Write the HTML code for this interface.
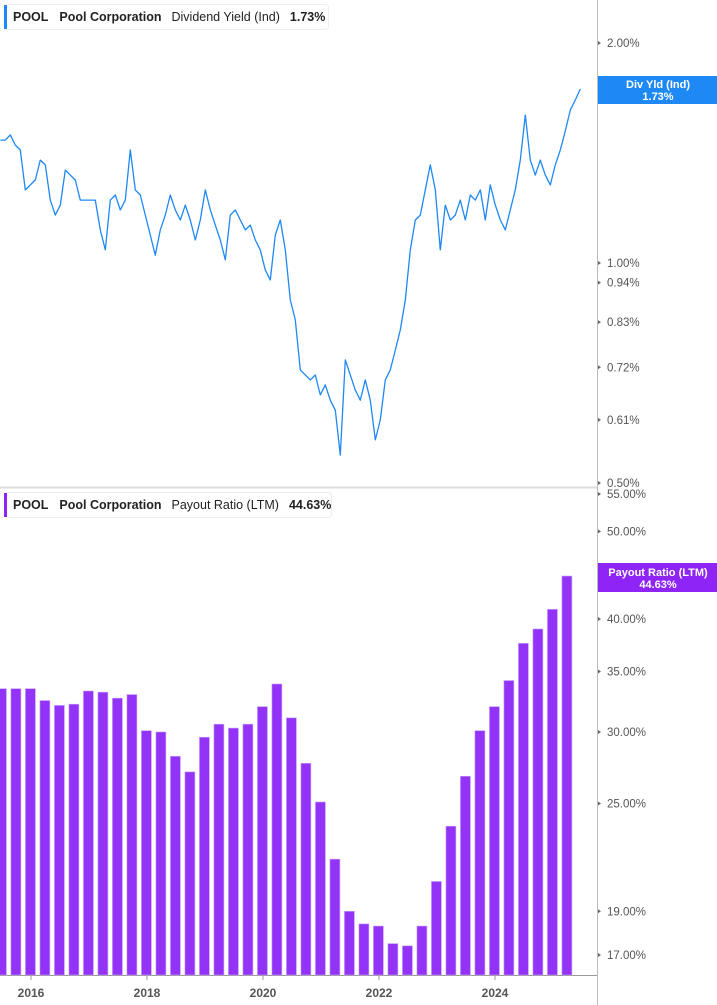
<!DOCTYPE html>
<html><head><meta charset="utf-8">
<style>
body{margin:0;background:#fff;font-family:"Liberation Sans",sans-serif;}
svg{display:block}
</style></head>
<body>
<svg id="chart" width="717" height="1005" xmlns="http://www.w3.org/2000/svg">
  <line x1="597.5" y1="0" x2="597.5" y2="1005" stroke="#bbb" stroke-width="1"/>
  <line x1="0" y1="487.5" x2="597" y2="487.5" stroke="#ddd" stroke-width="2"/>
  <line x1="0" y1="975.5" x2="597" y2="975.5" stroke="#999" stroke-width="1"/>
  <g id="yieldTicks"></g>
  <g id="payTicks"></g>
  <g id="xTicks"></g>
  <g id="bars"></g>
  <path id="yieldLine" fill="none" stroke="#1E88F5" stroke-width="1.3" stroke-linejoin="round"/>

  <g>
    <rect x="4.5" y="4.5" width="324" height="25" rx="3" fill="#fff" stroke="#eee"/>
    <rect x="4" y="5" width="3" height="24" fill="#1E88F5"/>
    <text x="13" y="21" font-size="12.5" fill="#222"><tspan font-weight="bold">POOL</tspan><tspan dx="11" font-weight="bold">Pool Corporation</tspan><tspan dx="10">Dividend Yield (Ind)</tspan><tspan dx="10" font-weight="bold">1.73%</tspan></text>
  </g>
  <g>
    <rect x="4.5" y="492.5" width="327" height="25" rx="3" fill="#fff" stroke="#eee"/>
    <rect x="4" y="493" width="3" height="24" fill="#8E24F5"/>
    <text x="13" y="509" font-size="12.5" fill="#222"><tspan font-weight="bold">POOL</tspan><tspan dx="11" font-weight="bold">Pool Corporation</tspan><tspan dx="10">Payout Ratio (LTM)</tspan><tspan dx="10" font-weight="bold">44.63%</tspan></text>
  </g>
  <g>
    <rect x="598" y="76" width="119" height="28" fill="#1E88F5"/>
    <text x="658" y="88" font-size="11" font-weight="bold" fill="#fff" text-anchor="middle">Div Yld (Ind)</text>
    <text x="658" y="100" font-size="11" font-weight="bold" fill="#fff" text-anchor="middle">1.73%</text>
  </g>
  <g>
    <rect x="598" y="563" width="119" height="29" fill="#8E24F5"/>
    <text x="658" y="576" font-size="11" font-weight="bold" fill="#fff" text-anchor="middle">Payout Ratio (LTM)</text>
    <text x="658" y="588" font-size="11" font-weight="bold" fill="#fff" text-anchor="middle">44.63%</text>
  </g>
</svg>
<script>
const yieldValues=[1.473,1.473,1.497,1.450,1.428,1.259,1.279,1.299,1.383,1.362,1.219,1.163,1.200,1.340,1.319,1.299,1.219,1.219,1.219,1.219,1.110,1.042,1.219,1.239,1.182,1.219,1.428,1.259,1.239,1.163,1.092,1.025,1.110,1.163,1.239,1.182,1.145,1.200,1.145,1.075,1.145,1.259,1.182,1.127,1.075,1.010,1.163,1.182,1.145,1.110,1.127,1.075,1.042,0.978,0.948,1.092,1.145,1.042,0.890,0.836,0.714,0.703,0.692,0.703,0.660,0.681,0.649,0.629,0.546,0.737,0.703,0.670,0.649,0.692,0.649,0.573,0.610,0.692,0.714,0.760,0.810,0.890,1.042,1.145,1.163,1.259,1.362,1.259,1.042,1.200,1.145,1.163,1.219,1.145,1.239,1.219,1.259,1.145,1.279,1.200,1.145,1.110,1.182,1.259,1.383,1.594,1.383,1.319,1.383,1.319,1.279,1.362,1.428,1.516,1.619,1.671,1.730];
const yieldStart=2015.47, yieldStep=5/58;
const payoutValues=[33.5,33.5,33.5,32.5,32.1,32.2,33.3,33.2,32.7,33.0,30.1,30.0,28.2,27.1,29.6,30.6,30.3,30.6,32.0,33.9,31.1,27.7,25.1,21.7,19.0,18.4,18.3,17.5,17.4,18.3,20.5,23.6,26.8,30.1,32.0,34.2,37.6,39.0,41.0,44.63];
const payoutStart=2015.49, payoutStep=0.25;
const yieldTickLabels=[2.00,1.00,0.94,0.83,0.72,0.61,0.50];
const payoutTickLabels=[55,50,40,35,30,25,19,17];
const yearLabels=[2016,2018,2020,2022,2024];

const NS="http://www.w3.org/2000/svg";
const xOf=t=>31+(t-2016)*58;
const yYield=v=>263-317.4*Math.log(v);
const yPay=v=>494+392.6*Math.log(55/v);
const baseY=975;

function txt(parent,x,y,s,size,fill,anchor){
  const e=document.createElementNS(NS,'text');
  e.setAttribute('x',x);e.setAttribute('y',y);e.setAttribute('font-size',size);
  e.setAttribute('fill',fill);if(anchor)e.setAttribute('text-anchor',anchor);
  e.textContent=s;parent.appendChild(e);return e;
}
const yt=document.getElementById('yieldTicks');
yieldTickLabels.forEach(v=>{
  const y=yYield(v);
  const e=txt(yt,607,y+4,v.toFixed(2)+'%',11.5,'#555');
  
  
  const m=document.createElementNS(NS,'path');
  m.setAttribute('d',`M598 ${y-2}L601 ${y}L598 ${y+2}Z`);m.setAttribute('fill','#666');
  
  
  yt.appendChild(m);
});
const pt=document.getElementById('payTicks');
payoutTickLabels.forEach(v=>{
  const y=yPay(v);
  const e=txt(pt,607,y+4,v.toFixed(2)+'%',11.5,'#555');
  
  
  const m=document.createElementNS(NS,'path');
  m.setAttribute('d',`M598 ${y-2}L601 ${y}L598 ${y+2}Z`);m.setAttribute('fill','#666');
  
  
  pt.appendChild(m);
});
const xt=document.getElementById('xTicks');
yearLabels.forEach(yr=>{
  const x=xOf(yr);
  const l=document.createElementNS(NS,'line');
  l.setAttribute('x1',x);l.setAttribute('x2',x);l.setAttribute('y1',975);l.setAttribute('y2',980);l.setAttribute('stroke','#999');
  
  
  xt.appendChild(l);
  const e=txt(xt,x,997,String(yr),12,'#555','middle');
  e.setAttribute('font-weight','bold');
  
  
});
const bg=document.getElementById('bars');
payoutValues.forEach((v,i)=>{
  const cx=xOf(payoutStart+i*payoutStep);
  const y=yPay(v);
  const r=document.createElementNS(NS,'rect');
  r.setAttribute('x',cx-5);r.setAttribute('y',y);r.setAttribute('width',10);r.setAttribute('height',baseY-y);
  r.setAttribute('fill','#9333F8');r.setAttribute('stroke','#C9A3FA');r.setAttribute('stroke-width','0.6');
  
  
  bg.appendChild(r);
});
let d='';
yieldValues.forEach((v,i)=>{
  const x=xOf(yieldStart+i*yieldStep), y=yYield(v);
  d+=(i?'L':'M')+x.toFixed(1)+' '+y.toFixed(1);
});
document.getElementById('yieldLine').setAttribute('d',d);
</script>
</body></html>
